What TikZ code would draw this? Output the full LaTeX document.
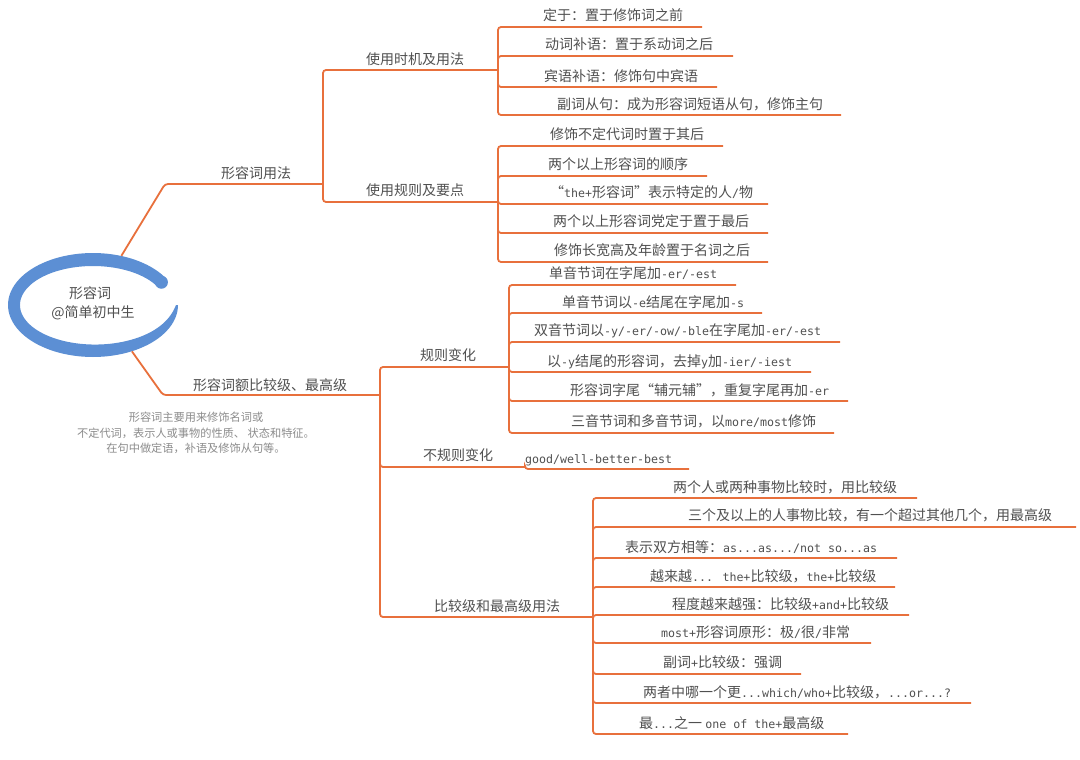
\documentclass[tikz,border=0pt]{standalone}
\usepackage{fontspec}
\setmainfont{Noto Sans CJK SC}
\newfontfamily\enf{DejaVu Sans Mono}[Scale=0.83]
\usetikzlibrary{shapes.geometric}
\definecolor{brc}{RGB}{232,112,60}
\definecolor{txc}{RGB}{80,80,80}
\definecolor{rootc}{RGB}{92,143,212}
\definecolor{notec}{RGB}{140,140,140}
\newcommand\en[1]{{\enf #1}}
\begin{document}
\begin{tikzpicture}[x=1pt,y=-1pt,
  br/.style={draw=brc,line width=1.8pt,rounded corners=3pt},
  lbl/.style={inner sep=0pt,text=txc,font=\fontsize{14}{16}\selectfont,text height=12.3pt,text depth=1.7pt},
  item/.style={lbl,anchor=west},
  note/.style={inner sep=0pt,text=notec,font=\fontsize{11.2}{13}\selectfont}]
\fill[white] (0,0) rectangle (1080,760);
\useasboundingbox (0,0) rectangle (1080,760);

% root
\fill[rootc] plot[domain=0:330,samples=100] ({93+85*cos(\x)},{305+52*sin(\x)})
  -- plot[domain=330:0,samples=100] ({93+(85-(12-10*exp(-\x/30)))*cos(\x)},{305+(52-(13-11*exp(-\x/30)))*sin(\x)}) -- cycle;
\fill[rootc] ({93+79*cos(330)},{305+45.5*sin(330)}) circle[radius=6.5];
\node[ellipse,minimum width=170pt,minimum height=104pt,inner sep=0pt] (root) at (93,305) {};
\node[lbl] (rt1) at (90,293) {形容词};
\node[lbl] (rt2) at (93,312) {@简单初中生};

% level 1
\coordinate (b1) at (165,184);
\coordinate (j1) at (323,184);
\coordinate (b2) at (163,395);
\coordinate (j2) at (380,395);
\draw[br] (root.60) -- (b1) -- (j1);
\draw[br] (root.-50) -- (b2) -- (j2);
\node[lbl] (n1) at (256,173) {形容词用法};
\node[lbl] (n2) at (270,385) {形容词额比较级、最高级};

\node[note] (d1) at (196,417) {形容词主要用来修饰名词或};
\node[note] (d2) at (196,433) {不定代词，表示人或事物的性质、 状态和特征。};
\node[note] (d3) at (196,448) {在句中做定语，补语及修饰从句等。};

% level 2 (upper)
\coordinate (u11) at (498,70);
\coordinate (u12) at (498,202);
\draw[br] (j1) |- (u11);
\draw[br] (j1) |- (u12);
\node[lbl] (n11) at (415,59) {使用时机及用法};
\node[lbl] (n12) at (415,190) {使用规则及要点};

% level 3 under n11
\node[item] (a1) at (543,15) {定于：置于修饰词之前};
\coordinate (ea1) at (702,27);
\node[item] (a2) at (545,44) {动词补语：置于系动词之后};
\coordinate (ea2) at (733,56);
\node[item] (a3) at (544,76) {宾语补语：修饰句中宾语};
\coordinate (ea3) at (717,87);
\node[item] (a4) at (557,104) {副词从句：成为形容词短语从句，修饰主句};
\coordinate (ea4) at (841,115);
\draw[br] (u11) |- (ea1);
\draw[br] (u11) |- (ea2);
\draw[br] (u11) |- (ea3);
\draw[br] (u11) |- (ea4);

% level 3 under n12
\node[item] (b1t) at (550,134) {修饰不定代词时置于其后};
\coordinate (eb1) at (723,146);
\node[item] (b2t) at (548,164) {两个以上形容词的顺序};
\coordinate (eb2) at (707,176);
\node[item] (b3t) at (550,192) {“\en{the+}形容词”表示特定的人\en{/}物};
\coordinate (eb3) at (768,204);
\node[item] (b4t) at (553,221) {两个以上形容词党定于置于最后};
\coordinate (eb4) at (768,233);
\node[item] (b5t) at (554,250) {修饰长宽高及年龄置于名词之后};
\coordinate (eb5) at (768,262);
\draw[br] (u12) |- (eb1);
\draw[br] (u12) |- (eb2);
\draw[br] (u12) |- (eb3);
\draw[br] (u12) |- (eb4);
\draw[br] (u12) |- (eb5);

% level 2 (lower)
\coordinate (u21) at (509,367);
\coordinate (u22) at (525,467);
\coordinate (u23) at (593,617);
\draw[br] (j2) |- (u21);
\draw[br] (j2) |- (u22);
\draw[br] (j2) |- (u23);
\node[lbl] (n21) at (448,355) {规则变化};
\node[lbl] (n22) at (458,455) {不规则变化};
\node[lbl] (n23) at (497,606) {比较级和最高级用法};

% level 3 under n21
\node[item] (c1) at (549,273) {单音节词在字尾加\en{-er/-est}};
\coordinate (ec1) at (736,285);
\node[item] (c2) at (562,302) {单音节词以\en{-e}结尾在字尾加\en{-s}};
\coordinate (ec2) at (762,313);
\node[item] (c3) at (534,330) {双音节词以\en{-y/-er/-ow/-ble}在字尾加\en{-er/-est}};
\coordinate (ec3) at (840,342);
\node[item] (c4) at (547,361) {以\en{-y}结尾的形容词，去掉\en{y}加\en{-ier/-iest}};
\coordinate (ec4) at (811,372);
\node[item] (c5) at (570,390) {形容词字尾“辅元辅”，重复字尾再加\en{-er}};
\coordinate (ec5) at (848,401);
\node[item] (c6) at (571,421) {三音节词和多音节词，以\en{more/most}修饰};
\coordinate (ec6) at (834,433);
\draw[br] (u21) |- (ec1);
\draw[br] (u21) |- (ec2);
\draw[br] (u21) |- (ec3);
\draw[br] (u21) |- (ec4);
\draw[br] (u21) |- (ec5);
\draw[br] (u21) |- (ec6);

% level 3 under n22
\node[item] (g1) at (525,458) {\en{good/well-better-best}};
\coordinate (eg1) at (689,469);
\draw[br] (u22) |- (eg1);

% level 3 under n23
\node[item] (h1) at (673,487) {两个人或两种事物比较时，用比较级};
\coordinate (eh1) at (917,498);
\node[item] (h2) at (688,515) {三个及以上的人事物比较，有一个超过其他几个，用最高级};
\coordinate (eh2) at (1076,527);
\node[item] (h3) at (625,547) {表示双方相等：\en{as...as.../not so...as}};
\coordinate (eh3) at (897,558);
\node[item] (h4) at (650,576) {越来越\en{... the+}比较级，\en{the+}比较级};
\coordinate (eh4) at (895,587);
\node[item] (h5) at (672,604) {程度越来越强：比较级\en{+and+}比较级};
\coordinate (eh5) at (909,615);
\node[item] (h6) at (661,632) {\en{most+}形容词原形：极\en{/}很\en{/}非常};
\coordinate (eh6) at (871,643);
\node[item] (h7) at (663,662) {副词\en{+}比较级：强调};
\coordinate (eh7) at (801,674);
\node[item] (h8) at (643,692) {两者中哪一个更\en{...which/who+}比较级，\en{...or...?}};
\coordinate (eh8) at (971,703);
\node[item] (h9) at (639,723) {最\en{...}之一 \en{one of the+}最高级};
\coordinate (eh9) at (848,734);
\draw[br] (u23) |- (eh1);
\draw[br] (u23) |- (eh2);
\draw[br] (u23) |- (eh3);
\draw[br] (u23) |- (eh4);
\draw[br] (u23) |- (eh5);
\draw[br] (u23) |- (eh6);
\draw[br] (u23) |- (eh7);
\draw[br] (u23) |- (eh8);
\draw[br] (u23) |- (eh9);
\end{tikzpicture}
\end{document}
